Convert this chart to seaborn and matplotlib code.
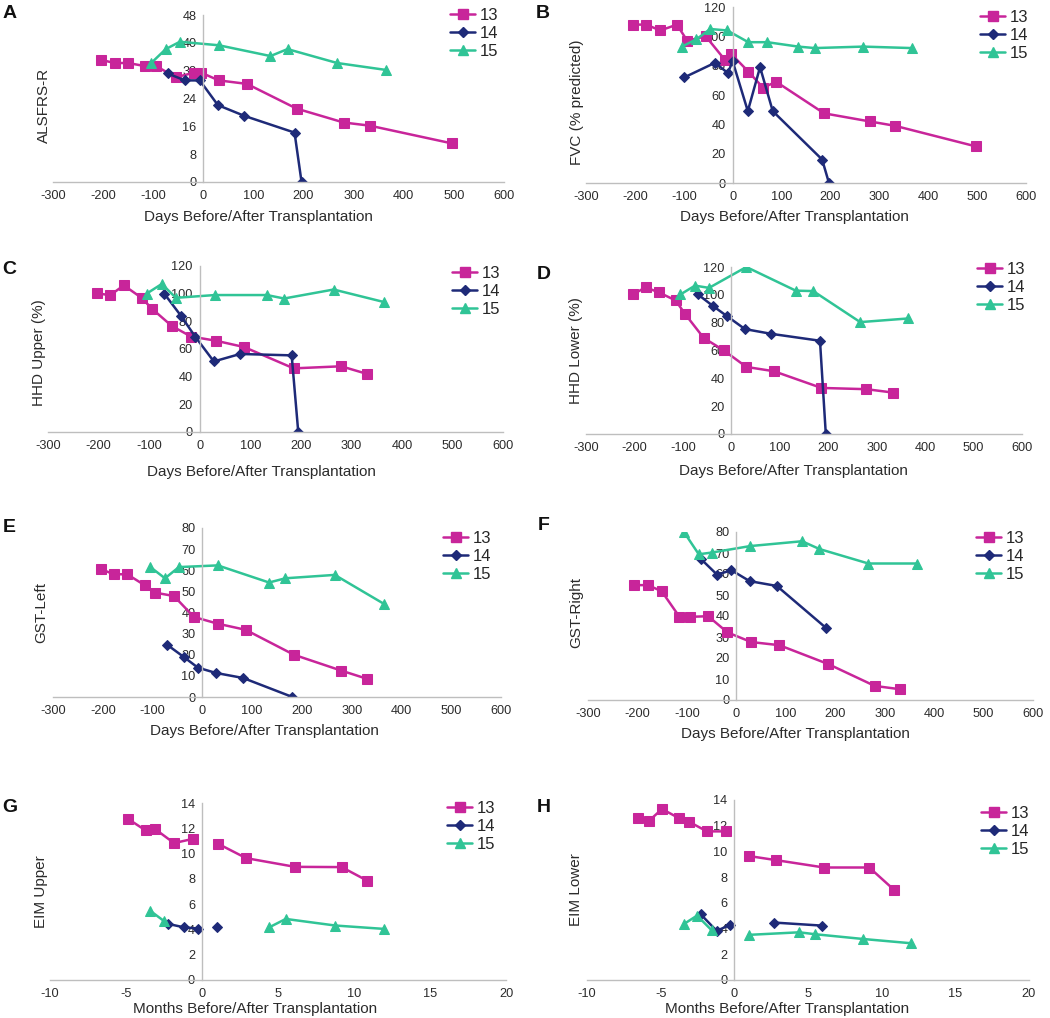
import numpy as np
import pandas as pd
import matplotlib
matplotlib.use("Agg")
import matplotlib.pyplot as plt
from matplotlib.lines import Line2D
import seaborn as sns

# --- DATI ---
patients = ["13", "14", "15"]
colors = ["#C8259A", "#1E2A78", "#30C496"]
markers = ["s", "D", "^"]

days_label = "Days Before/After Transplantation"
months_label = "Months Before/After Transplantation"

# A - ALSFRS-R
a_x13 = [-204, -177, -150, -116, -94, -55, -19, -4, 31, 87, 186, 280, 332, 496]
a_y13 = [35.1, 34.2, 34.2, 33.3, 33.3, 30.1, 31.4, 31.4, 29.2, 28.2, 21.1, 17.1, 16.2, 11.1]
a_x14 = [-71, -37, -7, 29, 82, 182, 196]
a_y14 = [31.2, 29.2, 29.2, 22.1, 19.0, 14.2, 0]
a_x15 = [-104, -75, -47, 31, 134, 168, 267, 365]
a_y15 = [34.2, 38.2, 40.3, 39.3, 36.2, 38.2, 34.2, 32.2]

# B - FVC
b_x13 = [-203, -177, -148, -114, -93, -55, -16, -3, 32, 62, 89, 187, 280, 332, 497]
b_y13 = [108, 108, 104, 108, 97, 100, 84, 88, 76, 65, 69, 47.5, 42, 39, 25]
b_x14 = [-99, -36, -10, 0, 31, 56, 82, 183, 197]
b_y14 = [72, 82, 75, 83, 49, 79, 49, 16, 0]
b_x15 = [-104, -74, -46, -11, 32, 71, 134, 168, 267, 366]
b_y15 = [93, 98, 105, 104, 96, 96, 93, 92, 93, 92]

# C - HHD Upper
c_x13 = [-204, -177, -150, -115, -94, -55, -17, 32, 88, 186, 280, 331]
c_y13 = [100.3, 98.9, 106, 97, 89, 76.6, 69, 66, 61.4, 46, 47.5, 42]
c_x14 = [-70, -37, -9, 28, 80, 182, 195]
c_y14 = [100, 84, 69, 51, 56.4, 55.4, 0]
c_x15 = [-105, -75, -47, 30, 133, 167, 265, 364]
c_y15 = [100, 107, 97, 99, 99, 96.5, 103, 94]

# D - HHD Lower
d_x13 = [-203, -177, -150, -115, -95, -57, -16, 31, 88, 186, 279, 333]
d_y13 = [100.3, 105.4, 101.8, 96, 86, 69, 60.2, 48.2, 45.1, 33.1, 32.2, 29.8]
d_x14 = [-69, -38, -9, 28, 82, 183, 195]
d_y14 = [100.3, 92, 84.7, 75.4, 72, 67, 0]
d_x15 = [-105, -75, -46, 31, 133, 169, 266, 364]
d_y15 = [100.3, 106.6, 105, 120, 103, 102.7, 80.4, 83]

# E - GST-Left
e_x13 = [-203, -178, -151, -115, -95, -57, -17, 31, 87, 184, 279, 331]
e_y13 = [60.5, 58.1, 58.1, 52.8, 49.4, 47.8, 37.9, 34.7, 31.8, 20, 12.5, 8.6]
e_x14 = [-70, -37, -9, 27, 82, 181]
e_y14 = [24.6, 18.9, 13.9, 11.4, 9, 0]
e_x15 = [-105, -75, -47, 31, 134, 167, 266, 364]
e_y15 = [61.6, 56.2, 61.5, 62.3, 54.2, 56.2, 57.8, 44.2]

# F - GST-Right
f_x13 = [-206, -179, -151, -115, -94, -57, -18, 30, 87, 186, 280, 332]
f_y13 = [54.7, 54.7, 51.8, 39.6, 39.6, 39.9, 32.2, 27.6, 26.1, 17.1, 6.7, 5.1]
f_x14 = [-71, -39, -10, 27, 82, 181]
f_y14 = [67, 59.7, 61.8, 56.6, 54.3, 34.4]
f_x15 = [-106, -76, -50, 28, 133, 168, 267, 365]
f_y15 = [80, 69.4, 70.2, 73.3, 75.6, 71.9, 65, 65]

# G - EIM Upper (mesi, NaN = interruzione della linea)
nan = np.nan
g_x13 = [-4.85, -3.71, -3.09, -1.84, -0.57, nan, 1.05, 2.9, 6.12, 9.19, 10.88]
g_y13 = [12.73, 11.83, 11.94, 10.83, 11.17, nan, 10.78, 9.64, 8.95, 8.93, 7.85]
g_x14 = [-2.24, -1.2, -0.26, nan, 0.99]
g_y14 = [4.44, 4.17, 4.07, nan, 4.23]
g_x15 = [-3.4, -2.52, nan, 4.43, 5.51, 8.76, 12.0]
g_y15 = [5.47, 4.68, nan, 4.17, 4.83, 4.31, 4.04]

# H - EIM Lower
h_x13 = [-6.56, -5.81, -4.91, -3.73, -3.08, -1.86, -0.59, nan, 1.0, 2.85, 6.09, 9.16, 10.86]
h_y13 = [12.62, 12.36, 13.3, 12.57, 12.31, 11.56, 11.56, nan, 9.64, 9.32, 8.75, 8.75, 6.99]
h_x14 = [-2.29, -1.2, -0.29, nan, 2.67, 5.95]
h_y14 = [5.12, 3.82, 4.29, nan, 4.47, 4.23]
h_x15 = [-3.44, -2.53, -1.54, nan, 0.97, 4.41, 5.48, 8.74, 11.98]
h_y15 = [4.34, 5.01, 3.87, nan, 3.51, 3.71, 3.56, 3.19, 2.86]

# --- STILE ---
sns.set_style("white")
plt.rcParams["font.family"] = ["Liberation Sans", "DejaVu Sans"]

W, H = 1050, 1018
fig = plt.figure(figsize=(W / 100, H / 100), dpi=100)

AXIS_COL = "#BEBEBE"
TXT_COL = "#2B2B2B"
MSIZE = {"s": 7.0, "D": 5.0, "^": 7.5}


def add_axes(l, t, r, b):
    return fig.add_axes([l / W, 1 - b / H, (r - l) / W, (b - t) / H])


def draw_series(ax, xs, ys, color, marker):
    df = pd.DataFrame({"x": xs, "y": ys})
    df["seg"] = df["x"].isna().cumsum()
    df = df.dropna()
    for _, part in df.groupby("seg"):
        sns.lineplot(data=part, x="x", y="y", ax=ax, color=color, marker=marker,
                     markersize=MSIZE[marker], markeredgecolor=color, linewidth=1.8,
                     estimator=None, sort=False, legend=False)


def panel(rect, letter, letter_xy, series, ylabel, ylim, ystep, xlim, xstep,
          xlabel, ylab_x, ylab_y, xlab_x, xlab_off, leg_xy):
    ax = add_axes(*rect)
    for (xs, ys), col, mk in zip(series, colors, markers):
        draw_series(ax, xs, ys, col, mk)

    ax.set_xlim(*xlim)
    ax.set_ylim(*ylim)
    ax.set_xticks(np.arange(xlim[0], xlim[1] + 1e-9, xstep))
    ax.set_yticks(np.arange(ylim[0], ylim[1] + 1e-9, ystep))
    ax.set_xticklabels([f"{v:g}" for v in ax.get_xticks()])
    ax.set_yticklabels([f"{v:g}" for v in ax.get_yticks()])

    for s in ["top", "right"]:
        ax.spines[s].set_visible(False)
    ax.spines["left"].set_position(("data", 0))
    for s in ["left", "bottom"]:
        ax.spines[s].set_color(AXIS_COL)
        ax.spines[s].set_linewidth(1.0)
    ax.tick_params(axis="x", direction="in", length=4, color=AXIS_COL,
                   labelsize=9.2, labelcolor=TXT_COL, pad=6)
    ax.tick_params(axis="y", direction="out", length=3, color=AXIS_COL,
                   labelsize=9.2, labelcolor=TXT_COL, pad=2)

    h = rect[3] - rect[1]
    ax.set_ylabel(ylabel, fontsize=11, color=TXT_COL)
    ax.yaxis.set_label_coords(ylab_x, ylab_y)
    ax.set_xlabel(xlabel, fontsize=11, color=TXT_COL)
    ax.xaxis.set_label_coords(xlab_x, -xlab_off / h)

    handles = [Line2D([], [], color=c, marker=m, linewidth=1.8,
                      markersize=MSIZE[m])
               for c, m in zip(colors, markers)]
    fig.legend(handles, patients, loc="upper left", frameon=False,
               bbox_to_anchor=(leg_xy[0] / W, 1 - (leg_xy[1] - 9) / H),
               bbox_transform=fig.transFigure, fontsize=12, handlelength=1.5,
               handletextpad=0.3, labelspacing=0.18, borderpad=0,
               borderaxespad=0)

    fig.text(letter_xy[0] / W, 1 - letter_xy[1] / H, letter, fontsize=14,
             fontweight="bold", ha="center", va="center", color="#111111")
    return ax


day_lim = (-300, 600)
mon_lim = (-10, 20)

panel((53, 15, 504, 182), "A", (10, 13),
      [(a_x13, a_y13), (a_x14, a_y14), (a_x15, a_y15)],
      "ALSFRS-R", (0, 48), 8, day_lim, 100, days_label,
      -0.005, 0.46, 0.455, 28, (450, 17))
panel((586, 7, 1026, 183), "B", (543, 13),
      [(b_x13, b_y13), (b_x14, b_y14), (b_x15, b_y15)],
      "FVC (% predicted)", (0, 120), 20, day_lim, 100, days_label,
      -0.004, 0.46, 0.473, 27, (980, 19))
panel((48, 266, 503, 432), "C", (9, 270),
      [(c_x13, c_y13), (c_x14, c_y14), (c_x15, c_y15)],
      "HHD Upper (%)", (0, 120), 20, day_lim, 100, days_label,
      -0.004, 0.48, 0.468, 33, (452, 275))
panel((586, 267, 1022, 434), "D", (544, 275),
      [(d_x13, d_y13), (d_x14, d_y14), (d_x15, d_y15)],
      "HHD Lower (%)", (0, 120), 20, day_lim, 100, days_label,
      -0.006, 0.5, 0.475, 30, (977, 271))
panel((53, 528, 501, 697), "E", (9, 528),
      [(e_x13, e_y13), (e_x14, e_y14), (e_x15, e_y15)],
      "GST-Left", (0, 80), 10, day_lim, 100, days_label,
      -0.01, 0.5, 0.473, 27, (443, 540))
panel((588, 532, 1033, 700), "F", (544, 525),
      [(f_x13, f_y13), (f_x14, f_y14), (f_x15, f_y15)],
      "GST-Right", (0, 80), 10, day_lim, 100, days_label,
      -0.01, 0.52, 0.467, 27, (976, 540))
panel((50, 803, 506, 980), "G", (10, 808),
      [(g_x13, g_y13), (g_x14, g_y14), (g_x15, g_y15)],
      "EIM Upper", (0, 14), 2, mon_lim, 5, months_label,
      -0.004, 0.5, 0.45, 22, (447, 810))
panel((587, 800, 1029, 980), "H", (544, 807),
      [(h_x13, h_y13), (h_x14, h_y14), (h_x15, h_y15)],
      "EIM Lower", (0, 14), 2, mon_lim, 5, months_label,
      -0.008, 0.5, 0.452, 22, (981, 815))

fig.savefig("out.png", dpi=100, facecolor="white")
